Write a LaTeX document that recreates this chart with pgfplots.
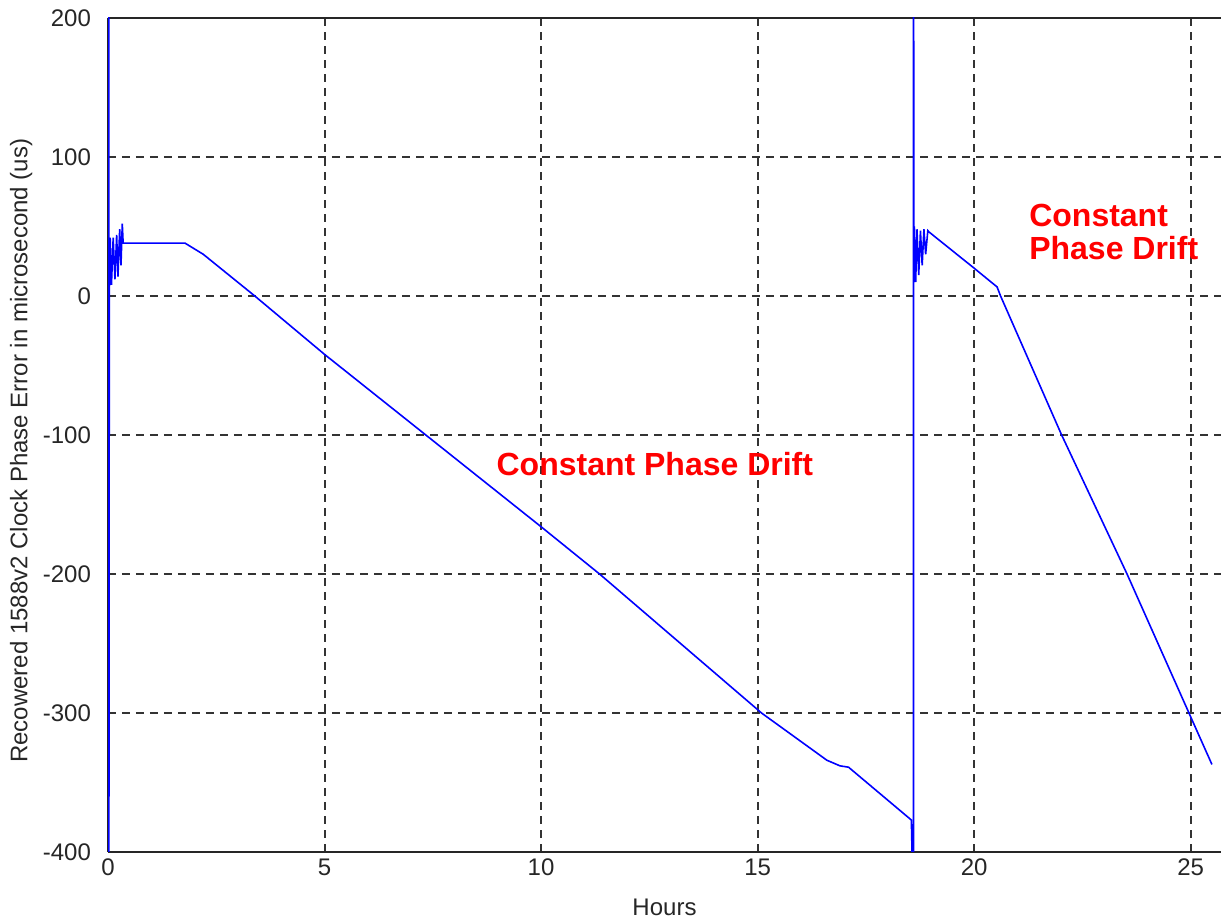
\documentclass[border=0pt]{standalone}
\usepackage{fontspec}
\setmainfont{Liberation Sans}
\usepackage{pgfplots}
\pgfplotsset{compat=1.18}
\begin{document}
\begin{tikzpicture}
\begin{axis}[
  at={(0,0)}, anchor=south west,
  scale only axis, width=556.5pt, height=417pt,
  xmin=0, xmax=25.7, ymin=-400, ymax=200,
  xtick={0,5,...,25}, ytick={-400,-300,...,200},
  grid=major,
  major grid style={black!80, line width=1pt, dash pattern=on 4pt off 3pt},
  major tick length=0pt,
  axis x line*=box, axis y line*=left,
  axis line style={-, black!85, line width=1.1pt},
  /pgf/number format/assume math mode=true,
  ticklabel style={font=\fontsize{12}{12}\selectfont, text=black!85},
  yticklabel style={xshift=-5pt},
  xlabel={Hours},
  ylabel={Recowered 1588v2 Clock Phase Error in microsecond (us)},
  label style={font=\fontsize{12}{12}\selectfont, text=black!85},
  xlabel style={at={(axis description cs:0.5,0)}, anchor=center, yshift=-27.5pt},
  ylabel style={at={(axis description cs:-0.078,0.481)}, anchor=center},
]
% recovered phase error (us) vs time (h)
\addplot[blue, line width=0.8pt] coordinates {
  (0.02,300) (0.02,-450) (0.03,0) (0.05,42) (0.08,8) (0.12,42) (0.16,12)
  (0.2,44) (0.23,14) (0.27,48) (0.3,22) (0.33,52) (0.35,38)
  (1.78,38) (2.2,30) (3.39,0) (5,-42) (7.5,-104) (10,-166)
  (11.35,-200) (15.09,-300) (16.6,-334) (16.9,-338) (17.1,-339)
  (18.55,-377)
  (18.6,-450) (18.6,300) (18.61,10) (18.62,50) (18.65,10) (18.68,48)
  (18.72,15) (18.76,47) (18.8,22) (18.84,48) (18.88,30) (18.93,47)
  (18.96,46) (20,20) (20.53,6.5) (20.61,0) (22.02,-100)
  (23.53,-200) (24.96,-300) (25.49,-337)
};
\node[anchor=west, text=red, font=\fontsize{16}{16.5}\selectfont\bfseries]
  at (axis cs:8.81,-121) {Constant Phase Drift};
\node[anchor=west, align=left, text=red, font=\fontsize{16}{16.5}\selectfont\bfseries]
  at (axis cs:21.11,46) {Constant\\Phase Drift};
\end{axis}
\pgfresetboundingbox
\path (-54pt,-34pt) rectangle (556.5pt,426pt);
\end{tikzpicture}
\end{document}
